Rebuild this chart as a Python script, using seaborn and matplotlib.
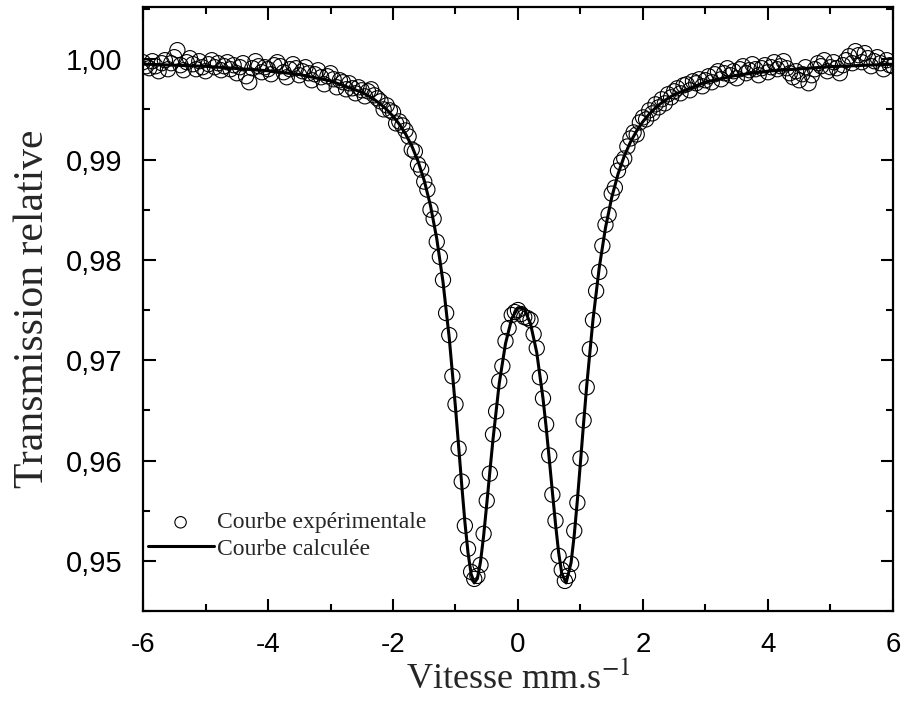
import numpy as np
import matplotlib
matplotlib.use("Agg")
import matplotlib.pyplot as plt
import seaborn as sns
from matplotlib.ticker import MultipleLocator

# velocity channels (mm/s), 0.05 step from -6 to 6
vitesse = np.round(np.arange(241) * 0.05 - 6.0, 2)

# measured relative transmission, one value per channel
transmission = [
    0.9997, 0.9993, 0.9991, 0.9998, 0.9993, 0.9988, 0.9996, 0.9999, 0.9990, 0.9996,
    1.0002, 1.0009, 0.9994, 0.9989, 0.9997, 1.0001, 0.9995, 0.9990, 0.9998, 0.9992,
    0.9988, 0.9995, 0.9999, 0.9992, 0.9996, 0.9989, 0.9993, 0.9997, 0.9990, 0.9994,
    0.9986, 0.9992, 0.9996, 0.9983, 0.9977, 0.9991, 0.9998, 0.9993, 0.9987, 0.9992,
    0.9990, 0.9985, 0.9994, 0.9997, 0.9993, 0.9987, 0.9982, 0.9990, 0.9995, 0.9991,
    0.9984, 0.9988, 0.9992, 0.9986, 0.9979, 0.9985, 0.9989, 0.9982, 0.9975, 0.9983,
    0.9986, 0.9980, 0.9972, 0.9979, 0.9977, 0.9970, 0.9976, 0.9971, 0.9966, 0.9972,
    0.9969, 0.9963, 0.9968, 0.9970, 0.9964, 0.9961, 0.9958, 0.9950, 0.9954, 0.9949,
    0.9947, 0.9936, 0.9938, 0.9934, 0.9929, 0.9923, 0.9910, 0.9908, 0.9895, 0.9890,
    0.9878, 0.9870, 0.9850, 0.9841, 0.9818, 0.9803, 0.9780, 0.9747, 0.9725, 0.9684,
    0.9656, 0.9612, 0.9579, 0.9535, 0.9512, 0.9489, 0.9482, 0.9485, 0.9496, 0.9527,
    0.9560, 0.9587, 0.9626, 0.9649, 0.9679, 0.9694, 0.9719, 0.9732, 0.9745, 0.9748,
    0.9750, 0.9746, 0.9743, 0.9742, 0.9740, 0.9726, 0.9712, 0.9683, 0.9662, 0.9636,
    0.9605, 0.9566, 0.9540, 0.9505, 0.9491, 0.9480, 0.9485, 0.9497, 0.9530, 0.9558,
    0.9602, 0.9640, 0.9673, 0.9711, 0.9740, 0.9769, 0.9788, 0.9814, 0.9835, 0.9845,
    0.9866, 0.9872, 0.9889, 0.9897, 0.9901, 0.9913, 0.9921, 0.9927, 0.9925, 0.9937,
    0.9942, 0.9940, 0.9949, 0.9946, 0.9955, 0.9952, 0.9960, 0.9956, 0.9965, 0.9962,
    0.9968, 0.9971, 0.9966, 0.9974, 0.9975, 0.9969, 0.9978, 0.9976, 0.9980, 0.9973,
    0.9979, 0.9983, 0.9977, 0.9985, 0.9988, 0.9980, 0.9986, 0.9991, 0.9984, 0.9988,
    0.9981, 0.9990, 0.9993, 0.9986, 0.9989, 0.9995, 0.9990, 0.9984, 0.9991, 0.9994,
    0.9987, 0.9992, 0.9997, 0.9990, 0.9993, 0.9998, 0.9991, 0.9986, 0.9982, 0.9988,
    0.9979, 0.9985, 0.9992, 0.9976, 0.9984, 0.9990, 0.9996, 0.9993, 0.9999, 0.9988,
    0.9992, 0.9997, 0.9991, 0.9986, 0.9994, 0.9999, 1.0003, 0.9996, 1.0008, 1.0004,
    0.9997, 1.0006, 1.0001, 0.9993, 0.9998, 1.0002, 0.9996, 0.9990, 0.9999, 0.9994,
    0.9993,
]

# fitted (calculated) curve
calc_x = [-6.0, -5.0, -4.0, -3.5, -3.0, -2.5, -2.4, -2.3, -2.2, -2.1, -2.0, -1.9, -1.8,
          -1.7, -1.6, -1.5, -1.4, -1.3, -1.2, -1.1, -1.0, -0.95, -0.9, -0.85, -0.8,
          -0.75, -0.7, -0.65, -0.6, -0.55, -0.5, -0.45, -0.4, -0.3, -0.2, -0.1, 0.0,
          0.1, 0.2, 0.3, 0.4, 0.45, 0.5, 0.55, 0.6, 0.65, 0.7, 0.77, 0.85, 0.9, 0.95,
          1.0, 1.05, 1.1, 1.2, 1.3, 1.4, 1.5, 1.6, 1.7, 1.8, 1.9, 2.0, 2.1, 2.2, 2.3,
          2.4, 2.5, 3.0, 3.5, 4.0, 5.0, 6.0]
calc_y = [0.99951, 0.99929, 0.99885, 0.99847, 0.99784, 0.99671, 0.99637, 0.99598,
          0.99552, 0.99498, 0.99432, 0.99353, 0.99256, 0.99136, 0.98984, 0.98790,
          0.98540, 0.98212, 0.97781, 0.97221, 0.96527, 0.96143, 0.95755, 0.95389,
          0.95082, 0.94870, 0.94780, 0.94823, 0.94990, 0.95249, 0.95565, 0.95890,
          0.96210, 0.96770, 0.97165, 0.97416, 0.97522, 0.97512, 0.97364, 0.97077,
          0.96620, 0.96335, 0.96016, 0.95689, 0.95371, 0.95084, 0.94876, 0.94780,
          0.94984, 0.95257, 0.95604, 0.95987, 0.96375, 0.96748, 0.97404, 0.97922,
          0.98320, 0.98622, 0.98854, 0.99034, 0.99175, 0.99287, 0.99379, 0.99453,
          0.99515, 0.99567, 0.99610, 0.99648, 0.99772, 0.99840, 0.99881, 0.99926,
          0.99950]

x_ticks = [-6, -4, -2, 0, 2, 4, 6]
x_labels = ["-6", "-4", "-2", "0", "2", "4", "6"]
y_ticks = [0.95, 0.96, 0.97, 0.98, 0.99, 1.00]
y_labels = ["0,95", "0,96", "0,97", "0,98", "0,99", "1,00"]

sns.set_style("ticks")
plt.rcParams["font.family"] = ["Liberation Sans", "DejaVu Sans"]
plt.rcParams["mathtext.fontset"] = "stix"
plt.rcParams["axes.unicode_minus"] = False

fig = plt.figure(figsize=(9.04, 7.02), dpi=100)
ax = fig.add_axes([0.1582, 0.1296, 0.8296, 0.8604])

sns.scatterplot(x=vitesse, y=transmission, ax=ax, marker="o", s=120,
                facecolor="none", edgecolor="black", linewidth=0.8,
                label="Courbe expérimentale", zorder=2)
sns.lineplot(x=calc_x, y=calc_y, ax=ax, color="black", linewidth=2.2,
             sort=False, label="Courbe calculée", zorder=3)

ax.set_xlim(-6, 6)
ax.set_ylim(0.9450, 1.0052)
ax.set_xticks(x_ticks)
ax.set_xticklabels(x_labels)
ax.set_yticks(y_ticks)
ax.set_yticklabels(y_labels)
ax.xaxis.set_minor_locator(MultipleLocator(1))
ax.yaxis.set_minor_locator(MultipleLocator(0.005))

ax.tick_params(which="both", direction="in", top=True, right=True, width=1.5,
               colors="black")
ax.tick_params(which="major", length=9)
ax.tick_params(which="minor", length=5)
ax.tick_params(axis="y", labelsize=21, pad=15)
ax.tick_params(axis="x", labelsize=20, pad=15)
for sp in ax.spines.values():
    sp.set_linewidth(1.6)
    sp.set_color("black")

ax.set_xlabel(r"Vitesse mm.s$^{-1}$", fontsize=26, family="Liberation Serif",
              labelpad=2)
ax.set_ylabel("Transmission relative", fontsize=30, family="Liberation Serif",
              labelpad=10)

leg = ax.legend(loc="upper left", bbox_to_anchor=(0.006, 0.164), frameon=False,
                prop={"family": "Liberation Serif", "size": 17},
                handlelength=2.8, handletextpad=0.15, labelspacing=0.2,
                borderpad=0, borderaxespad=0, markerscale=0.75)

fig.savefig("out.png", dpi=100)
